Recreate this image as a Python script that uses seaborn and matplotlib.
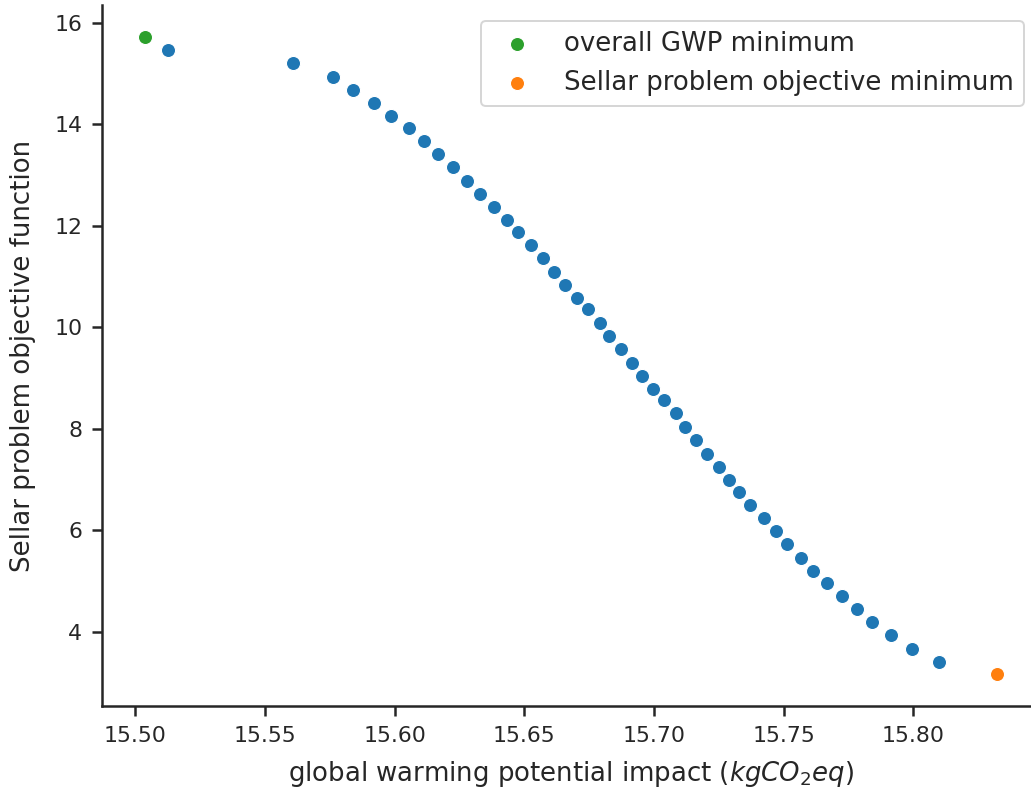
import matplotlib
matplotlib.use("Agg")
import matplotlib.pyplot as plt
import seaborn as sns
import pandas as pd

# Pareto sweep points
gwp = [15.5125, 15.5607, 15.5761, 15.5841, 15.5922, 15.5987, 15.6054, 15.6112,
       15.6169, 15.6225, 15.6280, 15.6328, 15.6382, 15.6433, 15.6475, 15.6527,
       15.6571, 15.6613, 15.6658, 15.6703, 15.6747, 15.6791, 15.6827, 15.6871,
       15.6915, 15.6952, 15.6997, 15.7039, 15.7083, 15.7119, 15.7161, 15.7206,
       15.7250, 15.7289, 15.7329, 15.7372, 15.7425, 15.7469, 15.7511, 15.7567,
       15.7614, 15.7666, 15.7724, 15.7784, 15.7842, 15.7914, 15.7996, 15.8099]
obj = [15.462, 15.200, 14.936, 14.674, 14.412, 14.162, 13.931, 13.669,
       13.407, 13.151, 12.887, 12.625, 12.363, 12.122, 11.882, 11.620,
       11.358, 11.094, 10.832, 10.569, 10.353, 10.089, 9.827, 9.564,
       9.300, 9.039, 8.776, 8.566, 8.303, 8.039, 7.777, 7.507,
       7.251, 6.989, 6.759, 6.506, 6.246, 5.984, 5.722, 5.458,
       5.202, 4.966, 4.709, 4.447, 4.185, 3.935, 3.659, 3.409]

gwp_min = [15.5037]
gwp_min_obj = [15.724]
sellar_min_gwp = [15.8324]
sellar_min_obj = [3.166]

sns.set_theme(style="ticks")
plt.rcParams.update({'axes.labelsize': 13, 'legend.fontsize': 13,
                     'xtick.labelsize': 11, 'ytick.labelsize': 11,
                     'xtick.major.size': 5, 'ytick.major.size': 5,
                     'xtick.major.pad': 5, 'ytick.major.pad': 5})

df = pd.DataFrame({'gwp': gwp, 'obj': obj})

fig = plt.figure(figsize=(1031 / 144, 792 / 144), dpi=144)
ax = fig.add_axes([102.3 / 1031, (792 - 706) / 792, (1040 - 102.3) / 1031, (706 - 5) / 792])

sns.scatterplot(x='gwp', y='obj', data=df, color='tab:blue', s=50, ax=ax)
sns.scatterplot(x=gwp_min, y=gwp_min_obj, color='tab:green', s=50, label='overall GWP minimum', ax=ax)
sns.scatterplot(x=sellar_min_gwp, y=sellar_min_obj, color='tab:orange', s=50,
                label='Sellar problem objective minimum', ax=ax)

ax.set_xlabel(r'global warming potential impact ($kgCO_2eq$)', labelpad=6.5)
ax.set_ylabel('Sellar problem objective function', labelpad=9)
ax.legend(loc='upper right', borderaxespad=0.6)
sns.despine()

fig.savefig('out.png', dpi=144)
plt.close()
